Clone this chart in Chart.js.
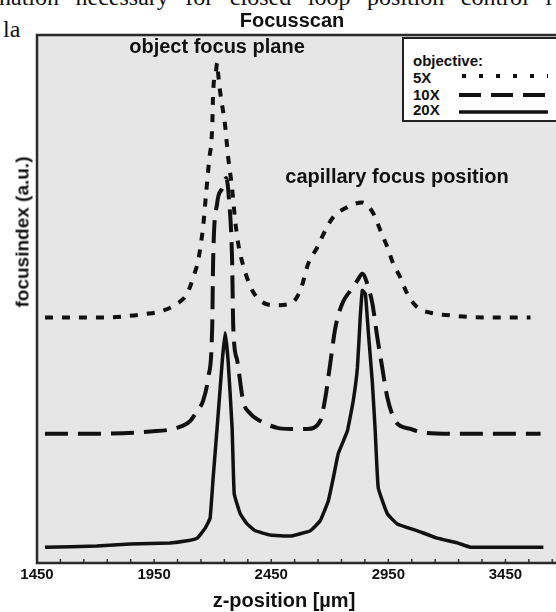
<!DOCTYPE html>
<html lang="en">
<head>
<meta charset="UTF-8">
<title>Focusscan</title>
<script src="https://cdn.jsdelivr.net/npm/chart.js@4"></script>
<style>
    html, body { margin: 0; padding: 0; background: #fff; overflow: hidden; }
    body { width: 556px; height: 612px; position: relative; font-family: "Liberation Sans", Arial, sans-serif; }
    #wrap { position: absolute; left: 0; top: 0; width: 566px; height: 612px; }
    .lbl { position: absolute; font-weight: bold; color: #111; white-space: nowrap; line-height: 1; }
    .serif { position: absolute; font-family: "Liberation Serif", "Times New Roman", serif; color: #111; white-space: nowrap; line-height: 1; font-size: 24px; }
    #legend { position: absolute; left: 402px; top: 37px; width: 170px; height: 85px; background: #fff; border: 2.5px solid #222; box-sizing: border-box; }
    #ytitle { left: 22px; top: 232px; font-size: 19px; transform: translate(-50%, -50%) rotate(-90deg); }
</style>
</head>
<body>
    <div class="serif" id="topline" style="left:-1px; top:-15px;">nation necessary for closed loop position control i</div>
    <div class="serif" style="left:3px; top:17px;">la</div>

    <div id="wrap"><canvas id="focusChart" width="566" height="612"></canvas></div>

    <div class="lbl" style="left:292px; top:10px; font-size:20px; transform:translateX(-50%);">Focusscan</div>
    <div class="lbl" style="left:217px; top:36px; font-size:20px; transform:translateX(-50%);">object focus plane</div>
    <div class="lbl" style="left:397px; top:166px; font-size:20px; transform:translateX(-50%);">capillary focus position</div>
    <div class="lbl" style="left:284px; top:590px; font-size:20px; transform:translateX(-50%);">z-position [µm]</div>
    <div class="lbl" id="ytitle">focusindex (a.u.)</div>
    <div id="legend"></div>

<script>
    // values (z in µm, focus index in a.u. 0..100)
    const z5x = [1484, 1719, 1920, 1988, 2048, 2091, 2117, 2138, 2159, 2172, 2185, 2198, 2202, 2215, 2219, 2224, 2232, 2253, 2266, 2283, 2296, 2309, 2330, 2365, 2403, 2459, 2531, 2574, 2608, 2647, 2681, 2715, 2775, 2839, 2886, 2916, 2946, 2971, 3001, 3031, 3074, 3129, 3215, 3356, 3557];
    const f5x = [46.5, 46.5, 47.2, 47.8, 49.1, 51.0, 54.1, 57.3, 63.6, 70.0, 76.3, 82.5, 89.0, 93.4, 94.7, 92.4, 89.2, 82.9, 76.9, 70.9, 64.9, 60.5, 56.4, 52.0, 49.7, 48.8, 49.1, 51.6, 56.7, 59.8, 63.0, 65.5, 67.4, 68.3, 66.2, 63.0, 59.8, 56.7, 54.1, 51.0, 48.4, 47.4, 46.9, 46.5, 46.5];

    const z10x = [1484, 1719, 1933, 2048, 2104, 2134, 2159, 2181, 2198, 2202, 2219, 2241, 2258, 2270, 2283, 2288, 2305, 2330, 2360, 2403, 2476, 2531, 2604, 2659, 2681, 2702, 2724, 2753, 2788, 2818, 2839, 2860, 2882, 2903, 2924, 2946, 2980, 3044, 3100, 3215, 3600];
    const f10x = [24.5, 24.5, 24.9, 25.6, 26.9, 28.8, 30.7, 35.1, 44.6, 57.3, 68.1, 71.0, 72.9, 68.7, 57.3, 44.6, 38.3, 30.7, 28.3, 26.9, 25.6, 25.4, 25.4, 26.9, 31.3, 37.8, 44.6, 49.1, 51.6, 53.5, 54.8, 52.9, 49.1, 42.7, 37.0, 31.3, 26.9, 25.4, 24.7, 24.5, 24.5];

    const z20x = [1484, 1706, 1847, 2018, 2091, 2134, 2168, 2189, 2202, 2219, 2241, 2253, 2266, 2283, 2292, 2318, 2347, 2382, 2446, 2531, 2617, 2659, 2694, 2715, 2736, 2775, 2800, 2818, 2830, 2839, 2852, 2865, 2882, 2894, 2907, 2946, 2988, 3074, 3159, 3245, 3300, 3441, 3612];
    const f20x = [3.0, 3.2, 3.6, 3.8, 4.2, 4.7, 6.6, 8.5, 16.1, 25.6, 38.3, 43.6, 38.3, 25.6, 13.1, 9.3, 7.4, 6.1, 5.3, 5.1, 6.1, 8.0, 11.8, 16.1, 20.7, 25.0, 30.7, 37.0, 46.5, 51.6, 51.0, 43.5, 34.0, 25.0, 14.2, 9.3, 7.4, 6.1, 4.7, 3.8, 3.0, 3.0, 3.0];

    const xTicks = [1450, 1550, 1650, 1750, 1850, 1950, 2050, 2150, 2250, 2350, 2450, 2550, 2650, 2750, 2850, 2950, 3050, 3150, 3250, 3350, 3450, 3550, 3650];
    const xTickLabels = [1450, 1950, 2450, 2950, 3450];

    function pts(xs, ys) {
        return xs.map((x, i) => ({ x: x, y: ys[i] }));
    }

    const frame = {
        id: 'frame',
        beforeDatasetsDraw(chart) {
            const a = chart.chartArea, c = chart.ctx;
            c.save();
            c.fillStyle = '#e6e6e6';
            c.fillRect(a.left, a.top, a.right - a.left, a.bottom - a.top);
            // small inward ticks on the bottom axis
            const xs = chart.scales.x;
            c.strokeStyle = '#333';
            c.lineWidth = 1.5;
            xs.ticks.forEach(t => {
                const px = xs.getPixelForValue(t.value);
                c.beginPath();
                c.moveTo(px, a.bottom);
                c.lineTo(px, a.bottom - 4);
                c.stroke();
            });
            c.restore();
        },
        afterDraw(chart) {
            const a = chart.chartArea, c = chart.ctx;
            c.save();
            c.strokeStyle = '#2a2a2a';
            c.lineWidth = 2.5;
            c.strokeRect(a.left, a.top, a.right - a.left, a.bottom - a.top);
            c.restore();
        }
    };

    const chart = new Chart(document.getElementById('focusChart').getContext('2d'), {
        type: 'line',
        data: {
            datasets: [
                { label: '5X', data: pts(z5x, f5x), borderColor: '#111', borderWidth: 4, borderDash: [8, 9],
                  cubicInterpolationMode: 'monotone', pointRadius: 0, fill: false },
                { label: '10X', data: pts(z10x, f10x), borderColor: '#111', borderWidth: 4, borderDash: [23, 10],
                  cubicInterpolationMode: 'monotone', pointRadius: 0, fill: false },
                { label: '20X', data: pts(z20x, f20x), borderColor: '#111', borderWidth: 3.5,
                  tension: 0.1, borderJoinStyle: 'round', pointRadius: 0, fill: false }
            ]
        },
        options: {
            responsive: false,
            animation: false,
            devicePixelRatio: 1,
            layout: { padding: { left: 37, right: 2, top: 35, bottom: 25 } },
            plugins: { legend: { display: false }, tooltip: { enabled: false } },
            scales: {
                x: {
                    type: 'linear',
                    min: 1450,
                    max: 3700,
                    afterBuildTicks: scale => { scale.ticks = xTicks.map(v => ({ value: v })); },
                    grid: { display: false, drawTicks: false, tickLength: 0 },
                    border: { display: false },
                    ticks: {
                        autoSkip: false,
                        maxRotation: 0,
                        padding: 3,
                        color: '#111',
                        font: { family: 'Liberation Sans', weight: 'bold', size: 15 },
                        callback: v => xTickLabels.includes(v) ? String(v) : ''
                    }
                },
                y: { min: 0, max: 100, display: false }
            }
        },
        plugins: [frame]
    });

    // legend box built from the datasets
    const legendBox = document.getElementById('legend');
    const rows = [
        { top: 14, text: 'objective:' },
        { top: 31, ds: 0, dash: '4 13', y: 39 },
        { top: 47.5, ds: 1, dash: '22 10', y: 58 },
        { top: 63, ds: 2, dash: '', y: 75 }
    ];
    rows.forEach(r => {
        const d = document.createElement('div');
        d.className = 'lbl';
        d.style.cssText = 'left:9px; top:' + r.top + 'px; font-size:15px;';
        d.textContent = r.ds === undefined ? r.text : chart.data.datasets[r.ds].label;
        legendBox.appendChild(d);
    });
    const svgNS = 'http://www.w3.org/2000/svg';
    const svg = document.createElementNS(svgNS, 'svg');
    svg.setAttribute('width', '170');
    svg.setAttribute('height', '85');
    svg.style.cssText = 'position:absolute; left:-2.5px; top:-2.5px;';
    rows.filter(r => r.ds !== undefined).forEach(r => {
        const l = document.createElementNS(svgNS, 'line');
        l.setAttribute('x1', r.ds === 0 ? 60 : 57);
        l.setAttribute('x2', 146);
        l.setAttribute('y1', r.y);
        l.setAttribute('y2', r.y);
        l.setAttribute('stroke', '#111');
        l.setAttribute('stroke-width', chart.data.datasets[r.ds].borderWidth);
        if (r.dash) l.setAttribute('stroke-dasharray', r.dash);
        svg.appendChild(l);
    });
    legendBox.appendChild(svg);

    // stretch the cut-off line of body text to the page width
    const topLine = document.getElementById('topline');
    const spaces = topLine.textContent.split(' ').length - 1;
    const lineW = topLine.getBoundingClientRect().width;
    topLine.style.wordSpacing = ((553 - lineW) / spaces) + 'px';
</script>
</body>
</html>
